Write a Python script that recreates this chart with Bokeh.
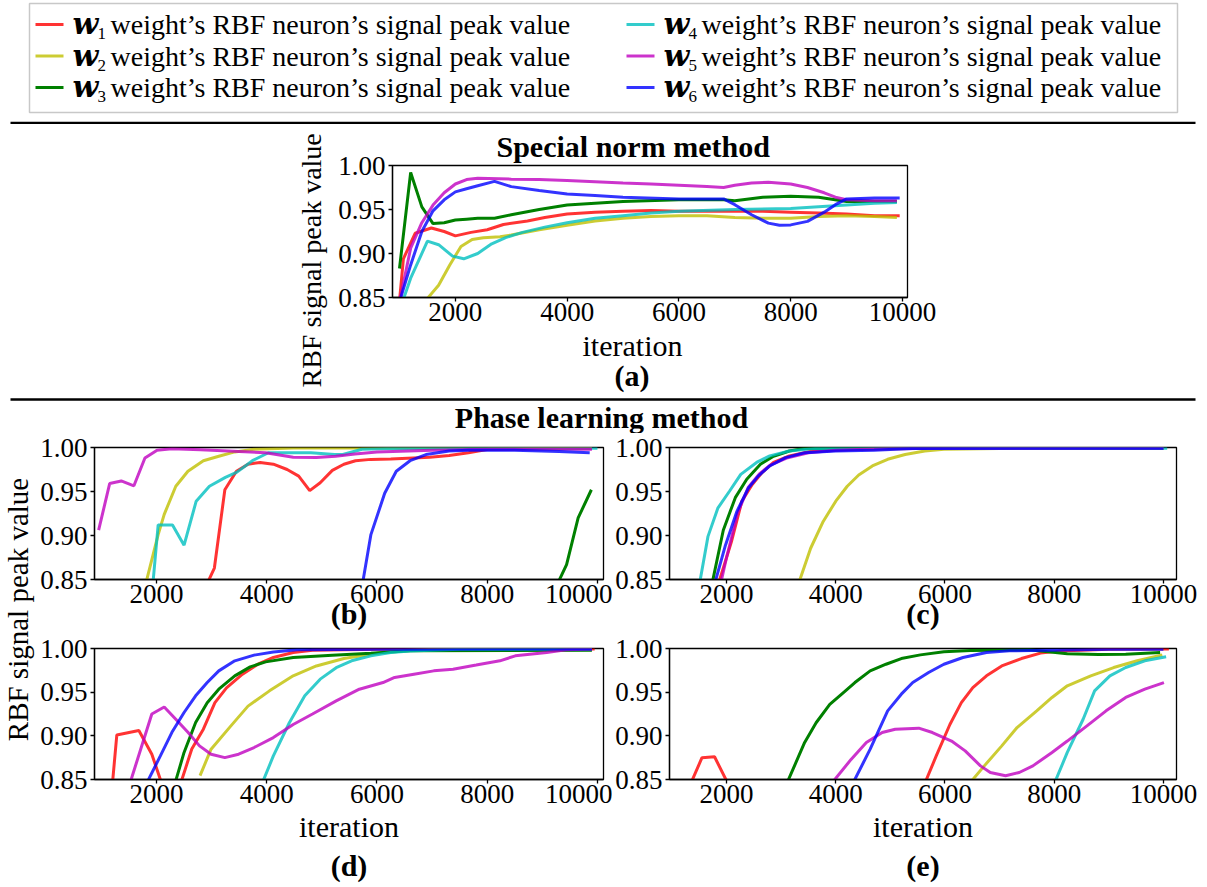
import math
from bokeh.plotting import figure
from bokeh.layouts import column, row
from bokeh.models import Range1d, FixedTicker, NumeralTickFormatter, Title
from bokeh.core.properties import value
from bokeh.embed import file_html
from bokeh.resources import INLINE

NAN = float("nan")

# ------------------------------------------------------------------
# RBF neuron signal peak value against training iteration
# ------------------------------------------------------------------

# (a) special norm method
a_w1_iter = [1000, 1070, 1280, 1570, 1800, 2000, 2280, 2570, 2860, 3290, 3600, 4000, 4500, 5000, 5500, 6000, 6500, 7000, 7500, 8000, 8500, 9000, 9500, 9950]
a_w1_peak = [0.846, 0.894, 0.923, 0.929, 0.925, 0.920, 0.924, 0.927, 0.933, 0.937, 0.941, 0.945, 0.947, 0.948, 0.949, 0.948, 0.948, 0.948, 0.948, 0.947, 0.946, 0.945, 0.943, 0.943]
a_w2_iter = [1500, 1700, 1900, 2100, 2300, 2500, 2800, 3000, 3500, 4000, 4500, 5000, 5500, 6000, 6500, 7000, 7500, 8000, 8500, 9000, 9500, 9900]
a_w2_peak = [0.849, 0.864, 0.887, 0.908, 0.916, 0.918, 0.919, 0.921, 0.927, 0.932, 0.937, 0.940, 0.942, 0.943, 0.943, 0.941, 0.940, 0.940, 0.942, 0.943, 0.942, 0.941]
a_w3_iter = [1000, 1200, 1400, 1600, 1800, 2000, 2200, 2400, 2700, 3000, 3500, 4000, 4500, 5000, 6000, 6800, 7000, 7500, 8000, 8500, 9000, 9500, 9900]
a_w3_peak = [0.883, 0.992, 0.953, 0.934, 0.935, 0.938, 0.939, 0.940, 0.940, 0.944, 0.950, 0.955, 0.957, 0.959, 0.961, 0.961, 0.960, 0.964, 0.965, 0.964, 0.959, 0.959, 0.959]
a_w4_iter = [1000, 1200, 1500, 1700, 1950, 2150, 2400, 2650, 2900, 3200, 3600, 4000, 4500, 5000, 5500, 6000, 7000, 8000, 8500, 9000, 9500, 9900]
a_w4_peak = [0.835, 0.872, 0.914, 0.910, 0.897, 0.894, 0.900, 0.911, 0.918, 0.924, 0.930, 0.935, 0.940, 0.943, 0.946, 0.948, 0.950, 0.951, 0.953, 0.955, 0.957, 0.958]
a_w5_iter = [1000, 1200, 1400, 1600, 1800, 2000, 2200, 2400, 3000, 3500, 4000, 4500, 5000, 5500, 6000, 6500, 6800, 7000, 7300, 7600, 8000, 8300, 8600, 8800, 9000, 9500, 9900]
a_w5_peak = [0.845, 0.906, 0.935, 0.955, 0.969, 0.979, 0.984, 0.9855, 0.9845, 0.984, 0.983, 0.9815, 0.980, 0.979, 0.9775, 0.976, 0.975, 0.9775, 0.980, 0.981, 0.979, 0.975, 0.969, 0.964, 0.961, 0.960, 0.960]
a_w6_iter = [1000, 1200, 1400, 1600, 1800, 2000, 2200, 2400, 2700, 3000, 3500, 4000, 4500, 5000, 6000, 6800, 7000, 7300, 7600, 7800, 8000, 8300, 8600, 8800, 9000, 9500, 9950]
a_w6_peak = [0.845, 0.887, 0.925, 0.9485, 0.961, 0.970, 0.9735, 0.977, 0.982, 0.976, 0.9715, 0.9675, 0.966, 0.964, 0.962, 0.962, 0.9555, 0.944, 0.9345, 0.932, 0.9325, 0.9365, 0.947, 0.9555, 0.962, 0.963, 0.963]

# (b) phase learning method
b_w1_iter = [2850, 3050, 3240, 3450, 3660, 3880, 4120, 4370, 4580, 4780, 4970, 5190, 5400, 5610, 5890, 6250, 6960, 7310, 7660, 8020, 9000, 9900]
b_w1_peak = [0.836, 0.863, 0.952, 0.973, 0.981, 0.983, 0.981, 0.975, 0.9675, 0.951, 0.960, 0.974, 0.981, 0.985, 0.9865, 0.987, 0.989, 0.991, 0.994, 0.998, 0.999, 0.999]
b_w2_iter = [1800, 2030, 2140, 2350, 2570, 2850, 3130, 3420, 3770, 4480, 9900]
b_w2_peak = [0.844, 0.901, 0.924, 0.956, 0.973, 0.985, 0.990, 0.995, 0.998, 0.9995, 0.9995]
b_w3_iter = [9200, 9440, 9650, 9890]
b_w3_peak = [0.835, 0.867, 0.920, 0.952]
b_w4_iter = [1870, 2030, 2290, 2500, 2720, 2960, 3250, 3460, 3740, 4030, 4800, 5230, 5380, 5730, 6250, 10000]
b_w4_peak = [0.800, 0.912, 0.912, 0.889, 0.939, 0.956, 0.966, 0.972, 0.985, 0.994, 0.994, 0.992, 0.992, 0.998, 0.999, 0.9992]
b_w5_iter = [950, 1150, 1360, 1590, 1790, 2010, 2280, 2800, 3500, 3980, 4480, 4900, 5250, 5600, 6000, 7000, 8000, 9900]
b_w5_peak = [0.906, 0.959, 0.962, 0.9565, 0.988, 0.997, 0.9985, 0.9975, 0.9955, 0.994, 0.989, 0.9885, 0.990, 0.9925, 0.995, 0.997, 0.998, 0.998]
b_w6_iter = [5650, 5890, 6140, 6350, 6600, 6890, 7310, 7660, 8500, 9300, 9860]
b_w6_peak = [0.813, 0.901, 0.948, 0.973, 0.985, 0.992, 0.996, 0.997, 0.997, 0.9955, 0.994]

# (c)
c_w1_iter = [1800, 2090, 2280, 2470, 2650, 2860, 3150, 3570, 4350, 5500, 10000]
c_w1_peak = [0.835, 0.893, 0.939, 0.958, 0.9715, 0.983, 0.9905, 0.996, 0.998, 0.999, 0.9995]
c_w2_iter = [3300, 3540, 3770, 4000, 4210, 4420, 4670, 4950, 5270, 5630, 5980, 7000, 10000]
c_w2_peak = [0.842, 0.8855, 0.916, 0.939, 0.956, 0.9687, 0.979, 0.9866, 0.992, 0.996, 0.998, 0.999, 0.9992]
c_w3_iter = [1700, 1940, 2160, 2370, 2620, 2860, 3150, 3430, 10000]
c_w3_peak = [0.835, 0.906, 0.943, 0.964, 0.981, 0.990, 0.996, 0.999, 0.9992]
c_w4_iter = [1450, 1660, 1840, 2050, 2260, 2550, 2790, 3150, 3640, 10070]
c_w4_peak = [0.826, 0.899, 0.931, 0.950, 0.9695, 0.983, 0.9905, 0.996, 0.999, 0.9992]
c_w5_iter = [1800, 2000, 2200, 2400, 2600, 2800, 3100, 3500, 4000, 5000, 10000]
c_w5_peak = [0.820, 0.875, 0.925, 0.955, 0.970, 0.980, 0.988, 0.994, 0.997, 0.999, 0.9995]
c_w6_iter = [1750, 1980, 2190, 2400, 2580, 2790, 3080, 3430, 4000, 4700, 5400, 10000]
c_w6_peak = [0.838, 0.889, 0.9275, 0.954, 0.9675, 0.979, 0.9885, 0.994, 0.996, 0.997, 0.999, 0.9992]

# (d)
d_w1_iter = [1150, 1280, 1680, 1915, 2150, 2400, 2640, 2850, 3060, 3270, 3560, 3840, 4120, 4480, 4830, 6000, 9950]
d_w1_peak = [0.810, 0.901, 0.906, 0.879, 0.835, 0.838, 0.885, 0.9076, 0.938, 0.955, 0.9706, 0.982, 0.9897, 0.9954, 0.998, 0.999, 0.9995]
d_w2_iter = [2790, 2990, 3350, 3660, 4050, 4480, 4900, 5400, 5890, 6250, 7000, 9900]
d_w2_peak = [0.8545, 0.8847, 0.9114, 0.934, 0.9515, 0.9687, 0.980, 0.9885, 0.9935, 0.997, 0.999, 0.9995]
d_w3_iter = [2300, 2500, 2710, 2920, 3130, 3420, 3700, 3980, 4480, 5190, 5890, 6600, 9900]
d_w3_peak = [0.838, 0.881, 0.9153, 0.938, 0.9534, 0.9687, 0.979, 0.9847, 0.9897, 0.9924, 0.9947, 0.9973, 0.998]
d_w4_iter = [3900, 4120, 4410, 4690, 4970, 5260, 5540, 5890, 6250, 6600, 7500, 9900]
d_w4_peak = [0.843, 0.877, 0.915, 0.9458, 0.9649, 0.978, 0.9859, 0.9916, 0.9954, 0.997, 0.999, 0.9995]
d_w5_iter = [1500, 1915, 2140, 2350, 2570, 2780, 2990, 3240, 3490, 3770, 4120, 4480, 4830, 5260, 5680, 6110, 6320, 6670, 7030, 7380, 7800, 8230, 8510, 9080, 9430, 9900]
d_w5_peak = [0.842, 0.925, 0.933, 0.919, 0.904, 0.8885, 0.879, 0.875, 0.879, 0.8866, 0.898, 0.913, 0.925, 0.940, 0.9534, 0.961, 0.9668, 0.9706, 0.9744, 0.9763, 0.981, 0.9859, 0.9916, 0.9954, 0.9985, 0.9995]
d_w6_iter = [1800, 2070, 2280, 2500, 2710, 2920, 3130, 3420, 3770, 4120, 4550, 6000, 9900]
d_w6_peak = [0.843, 0.877, 0.904, 0.9267, 0.9458, 0.961, 0.9744, 0.9859, 0.9924, 0.996, 0.9985, 0.9992, 0.9995]

# (e)
e_w1_iter = [1300, 1550, 1780, 2100, NAN, 5600, 5840, 6090, 6300, 6510, 6760, 7040, 7400, 7750, 8100, 9000, 10100]
e_w1_peak = [0.839, 0.875, 0.876, 0.836, NAN, 0.841, 0.877, 0.913, 0.938, 0.9553, 0.9687, 0.980, 0.9885, 0.9947, 0.997, 0.999, 0.9995]
e_w2_iter = [6450, 6720, 7040, 7320, 7680, 7960, 8240, 8670, 9090, 9520, 9980]
e_w2_peak = [0.8455, 0.8656, 0.8885, 0.9095, 0.9286, 0.9439, 0.9573, 0.9687, 0.9782, 0.9859, 0.9927]
e_w3_iter = [3100, 3430, 3640, 3890, 4140, 4350, 4630, 4920, 5200, 5550, 5980, 6470, 7540, 7890, 8240, 8810, 9310, 9940]
e_w3_peak = [0.845, 0.8924, 0.915, 0.936, 0.9496, 0.961, 0.9744, 0.982, 0.9885, 0.9927, 0.9962, 0.9977, 0.9985, 0.9962, 0.9939, 0.9931, 0.9935, 0.9954]
e_w4_iter = [8000, 8240, 8530, 8740, 9020, 9310, 9660, 10050]
e_w4_peak = [0.845, 0.881, 0.919, 0.9515, 0.9687, 0.9782, 0.9859, 0.9905]
e_w5_iter = [3950, 4280, 4560, 4850, 5090, 5520, 5770, 6120, 6370, 6650, 6830, 7110, 7360, 7610, 7960, 8240, 8600, 8950, 9310, 9660, 10010]
e_w5_peak = [0.8475, 0.873, 0.8924, 0.9038, 0.9076, 0.9088, 0.9038, 0.894, 0.8828, 0.8656, 0.858, 0.8542, 0.858, 0.8656, 0.881, 0.894, 0.9114, 0.9286, 0.9439, 0.9534, 0.961]
e_w6_iter = [4300, 4630, 4950, 5200, 5410, 5700, 5980, 6330, 6760, 7180, 7890, 9000, 10000]
e_w6_peak = [0.844, 0.8847, 0.9286, 0.9477, 0.961, 0.9725, 0.982, 0.9897, 0.9954, 0.9973, 0.998, 0.999, 0.999]

X_TICKS = [2000, 4000, 6000, 8000, 10000]
Y_TICKS = [0.85, 0.90, 0.95, 1.00]
WEIGHT_SUBSCRIPTS = ["1", "2", "3", "4", "5", "6"]
LEGEND_TEXT = "weight\u2019s RBF neuron\u2019s signal peak value"
Y_LABEL = "RBF signal peak value"
X_LABEL = "iteration"

# ------------------------------------------------------------------
# styling
# ------------------------------------------------------------------
SERIF = "Liberation Serif"
LINE_COLORS = ["#ff0000", "#bfbf00", "#008000", "#00bfbf", "#bf00bf", "#0000ff"]
LINE_ALPHAS = [0.8, 0.8, 1.0, 0.8, 0.8, 0.8]
LINE_WIDTH = 3
TITLE_PROPS = Title.properties()


def make_panel(frame_w, frame_h, left, right, top, bottom, x_limits, series):
    p = figure(frame_width=frame_w, frame_height=frame_h, title=None,
               x_range=Range1d(*x_limits), y_range=Range1d(0.85, 1.0),
               output_backend="svg", toolbar_location=None,
               min_border_left=left, min_border_right=right,
               min_border_top=top, min_border_bottom=bottom)
    p.xgrid.grid_line_color = None
    p.ygrid.grid_line_color = None
    p.outline_line_color = "black"
    p.outline_line_width = 1.3
    p.outline_line_alpha = 1.0
    for ax in (p.xaxis[0], p.yaxis[0]):
        ax.axis_line_width = 1.3
        ax.major_tick_line_width = 1.3
        ax.major_tick_in = 0
        ax.major_tick_out = 4
        ax.minor_tick_line_color = None
        ax.major_label_text_font = SERIF
        ax.major_label_text_font_size = "27px"
        ax.major_label_text_color = "black"
        ax.axis_label_text_font = SERIF
        ax.axis_label_text_color = "black"
    p.xaxis.ticker = FixedTicker(ticks=X_TICKS)
    p.yaxis.ticker = FixedTicker(ticks=Y_TICKS)
    p.xaxis.formatter = NumeralTickFormatter(format="0")
    p.yaxis.formatter = NumeralTickFormatter(format="0.00")
    p.xaxis.major_label_standoff = 1
    p.yaxis.major_label_standoff = 3
    for (xs, ys), color, alpha in zip(series, LINE_COLORS, LINE_ALPHAS):
        p.line(xs, ys, line_color=color, line_alpha=alpha, line_width=LINE_WIDTH)
    return p


def set_xlabel(p, text, size, bold, standoff):
    ax = p.xaxis[0]
    ax.axis_label = text
    ax.axis_label_text_font_size = f"{size}px"
    ax.axis_label_text_font_style = "bold" if bold else "normal"
    ax.axis_label_standoff = standoff


def add_title(p, text, side, size, bold, align="center", offset=0, standoff=0):
    t = Title(text=text, align=align, text_font=SERIF, text_font_size=f"{size}px",
              text_font_style="bold" if bold else "normal", text_color="black")
    if "offset" in TITLE_PROPS:
        t.offset = offset
    if "standoff" in TITLE_PROPS:
        t.standoff = standoff
    p.add_layout(t, side)


def make_canvas(width, height):
    """Plain drawing area in page pixels (y measured upward from its bottom)."""
    p = figure(width=width, height=height, title=None,
               x_range=Range1d(0, width), y_range=Range1d(0, height),
               output_backend="svg", toolbar_location=None,
               x_axis_type=None, y_axis_type=None, min_border=0)
    p.outline_line_color = None
    return p


# ---------------- legend strip with top rule (page y 0-124) ----------------
LEG_H = 124
legend_fig = make_canvas(1207, LEG_H)
legend_fig.quad(left=[29], right=[1177], top=[LEG_H - 3], bottom=[LEG_H - 112],
                fill_color="white", line_color="#c8c8c8", line_width=1.5)
legend_fig.segment(x0=[10], y0=[LEG_H - 122.5], x1=[1195], y1=[LEG_H - 122.5],
                   line_color="black", line_width=2.5)
for i, sub in enumerate(WEIGHT_SUBSCRIPTS):
    col, r = divmod(i, 3)
    hx = [35, 626][col]
    hy = LEG_H - [24, 55.5, 87][r]
    legend_fig.segment(x0=[hx], y0=[hy], x1=[hx + 28], y1=[hy],
                       line_color=LINE_COLORS[i], line_alpha=LINE_ALPHAS[i], line_width=3)
    legend_fig.text(x=[hx + 37], y=[hy + 1], text=["w"],
                    text_font=value("DejaVu Serif"), text_font_size="30px",
                    text_font_style="bold italic", text_baseline="middle",
                    text_align="left", text_color="black")
    legend_fig.text(x=[hx + 62], y=[hy - 9], text=[sub],
                    text_font=value(SERIF), text_font_size="17px",
                    text_baseline="middle", text_align="left", text_color="black")
    legend_fig.text(x=[hx + 75], y=[hy], text=[LEGEND_TEXT],
                    text_font=value(SERIF), text_font_size="28px",
                    text_baseline="middle", text_align="left", text_color="black")

# ---------------- (a) special norm method (page y 124-392) ----------------
A_H = 268
series_a = [(a_w1_iter, a_w1_peak), (a_w2_iter, a_w2_peak), (a_w3_iter, a_w3_peak),
            (a_w4_iter, a_w4_peak), (a_w5_iter, a_w5_peak), (a_w6_iter, a_w6_peak)]
panel_a = make_panel(515, 132, 112, 53, 40, 96, (875, 10090), series_a)
add_title(panel_a, "Special norm method", "above", 30, True, align="left", offset=104, standoff=6)
add_title(panel_a, X_LABEL, "below", 30, False, align="left", offset=190, standoff=6)
add_title(panel_a, "(a)", "below", 30, True, align="left", offset=222, standoff=-16)
add_title(panel_a, Y_LABEL, "left", 28, False, align="left", offset=-90, standoff=18)
band_a = row(make_canvas(280, A_H), panel_a, make_canvas(247, A_H))

# ---------------- section header with rule (page y 392-432) ----------------
HEAD_H = 40
header = make_canvas(1207, HEAD_H)
header.segment(x0=[10], y0=[HEAD_H - 6], x1=[1195], y1=[HEAD_H - 6],
               line_color="black", line_width=2.5)
header.text(x=[601], y=[HEAD_H - 24], text=["Phase learning method"], text_font=value(SERIF),
            text_font_size="30px", text_font_style="bold", text_align="center",
            text_baseline="middle", text_color="black")

# ---------------- shared y label (page y 432-885) ----------------
BOTTOM_H = 453
ylab = make_canvas(36, BOTTOM_H)
ylab.text(x=[17], y=[BOTTOM_H - (608 - 432)], text=[Y_LABEL], text_font=value(SERIF),
          text_font_size="29px", angle=math.pi / 2, text_align="center",
          text_baseline="middle", text_color="black")

# ---------------- (b) - (e) phase learning method ----------------
series_b = [(b_w1_iter, b_w1_peak), (b_w2_iter, b_w2_peak), (b_w3_iter, b_w3_peak),
            (b_w4_iter, b_w4_peak), (b_w5_iter, b_w5_peak), (b_w6_iter, b_w6_peak)]
series_c = [(c_w1_iter, c_w1_peak), (c_w2_iter, c_w2_peak), (c_w3_iter, c_w3_peak),
            (c_w4_iter, c_w4_peak), (c_w5_iter, c_w5_peak), (c_w6_iter, c_w6_peak)]
series_d = [(d_w1_iter, d_w1_peak), (d_w2_iter, d_w2_peak), (d_w3_iter, d_w3_peak),
            (d_w4_iter, d_w4_peak), (d_w5_iter, d_w5_peak), (d_w6_iter, d_w6_peak)]
series_e = [(e_w1_iter, e_w1_peak), (e_w2_iter, e_w2_peak), (e_w3_iter, e_w3_peak),
            (e_w4_iter, e_w4_peak), (e_w5_iter, e_w5_peak), (e_w6_iter, e_w6_peak)]

LEFT_XLIM = (875, 10110)
RIGHT_XLIM = (955, 10240)

# upper row: page y 432-630, lower row: page y 630-885
panel_b = make_panel(509, 132, 58, 9, 14, 52, LEFT_XLIM, series_b)
panel_c = make_panel(507, 132, 55, 26, 14, 52, RIGHT_XLIM, series_c)
panel_d = make_panel(509, 131, 58, 9, 16, 108, LEFT_XLIM, series_d)
panel_e = make_panel(507, 131, 55, 26, 16, 108, RIGHT_XLIM, series_e)

set_xlabel(panel_b, "(b)", 30, True, -9)
set_xlabel(panel_c, "(c)", 30, True, -9)
set_xlabel(panel_d, X_LABEL, 30, False, 4)
set_xlabel(panel_e, X_LABEL, 30, False, 4)
add_title(panel_d, "(d)", "below", 30, True, standoff=2)
add_title(panel_e, "(e)", "below", 30, True, standoff=2)

bottom = row(ylab,
             column(row(panel_b, panel_c), row(panel_d, panel_e)),
             make_canvas(7, BOTTOM_H))

page = column(legend_fig, band_a, header, bottom)

open("out.html", "w").write(file_html(page, INLINE))
